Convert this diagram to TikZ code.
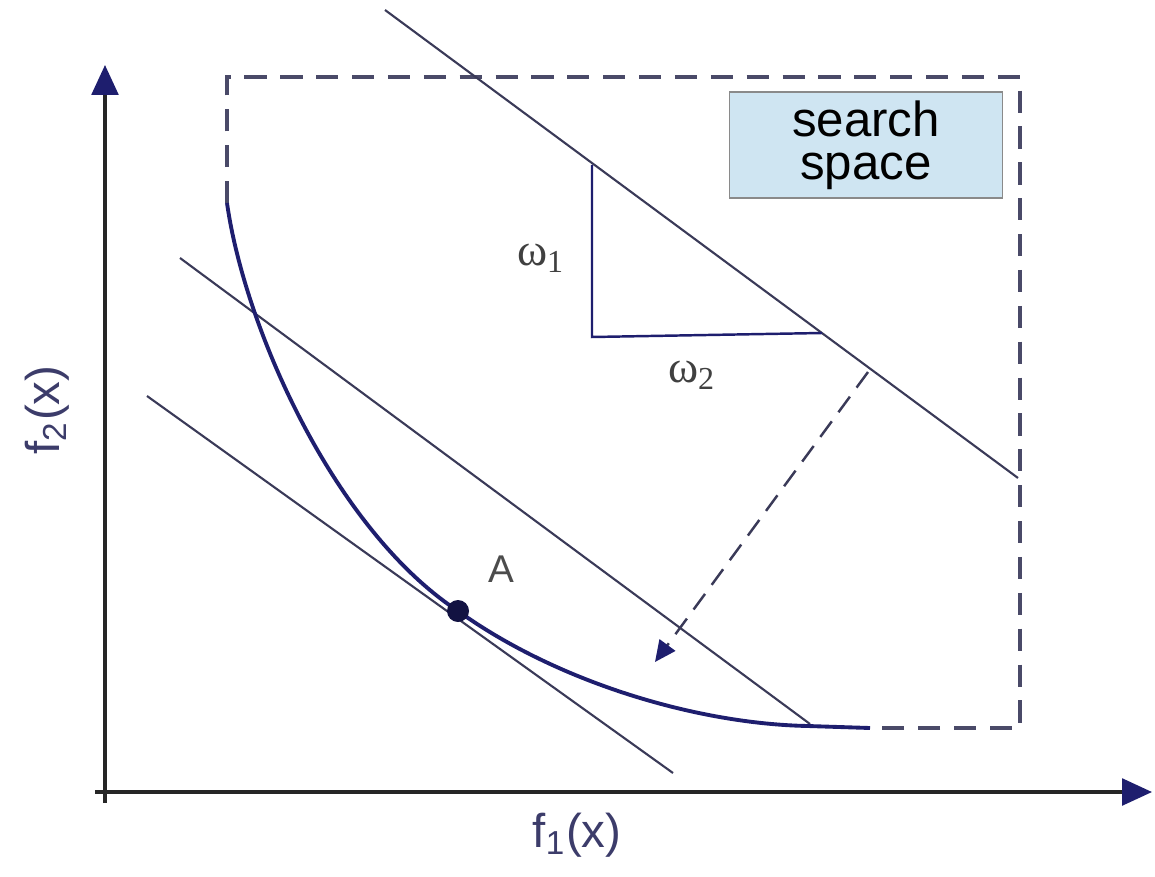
\documentclass[tikz,border=0pt]{standalone}
\usepackage{fontspec}
\setmainfont{Liberation Sans}
\newfontfamily\greekserif{Liberation Serif}
\usetikzlibrary{arrows.meta}
\definecolor{navy}{HTML}{1E1E6E}
\definecolor{thinc}{HTML}{3A3A58}
\definecolor{dashc}{HTML}{4A4A68}
\definecolor{labc}{HTML}{3C3C6A}
\definecolor{boxfill}{HTML}{CFE5F2}
\definecolor{boxdraw}{HTML}{8A8A8A}
\tikzset{
  axisline/.style={line width=0.9pt, draw=black!85, -{Triangle[length=8.5pt,width=7.6pt,color=navy]}},
  thinline/.style={line width=0.6pt, draw=thinc},
  dashbox/.style={line width=0.9pt, draw=dashc, dash pattern=on 6.3pt off 3.9pt},
  front/.style={line width=1.1pt, draw=navy},
  weight/.style={line width=0.7pt, draw=navy},
  movearrow/.style={line width=0.7pt, draw=thinc, dash pattern=on 5.5pt off 3.2pt, -{Triangle[length=6pt,width=5.5pt,color=navy]}},
  axlabel/.style={text=labc, font=\fontsize{13.5pt}{15pt}\selectfont, inner sep=0pt},
  wlabel/.style={text=black!75, font=\greekserif\fontsize{13pt}{15pt}\selectfont, inner sep=0pt},
  searchbox/.style={draw=boxdraw, line width=0.4pt, fill=boxfill, minimum width=2.73cm, minimum height=1.06cm, align=center, inner sep=0pt, font=\fontsize{14pt}{12.3pt}\selectfont},
}
\begin{document}
\begin{tikzpicture}[x=0.01cm, y=-0.01cm]
\useasboundingbox (0,0) rectangle (1155,876);
% axes
\coordinate (o1) at (105,803);
\coordinate (ytip) at (105,65);
\coordinate (o2) at (95,792);
\coordinate (xtip) at (1152,792);
\draw[axisline] (o1) -- (ytip);
\draw[axisline] (o2) -- (xtip);
\node[axlabel] (xl) at (577,835) {f\textsubscript{1}(x)};
\node[axlabel, rotate=90] (yl) at (47,410) {f\textsubscript{2}(x)};
% search space (dashed box)
\coordinate (bl) at (227,203);
\coordinate (tl) at (227,77);
\coordinate (tr) at (1020,77);
\coordinate (br) at (1020,728);
\coordinate (fe) at (870,728);
\draw[dashbox] (bl) -- (tl) -- (tr) -- (br) -- (fe);
% lines
\coordinate (l1a) at (385,10);
\coordinate (l1b) at (1018,478);
\coordinate (l2a) at (180,258);
\coordinate (l2b) at (810,724);
\coordinate (l3a) at (147,396);
\coordinate (l3b) at (673,773);
\draw[thinline] (l1a) -- (l1b);
\draw[thinline] (l2a) -- (l2b);
\draw[thinline] (l3a) -- (l3b);
% pareto front
\coordinate (A) at (458,611);
\coordinate (fm) at (808,726);
\draw[front] (bl) .. controls (245,330) and (335,530) .. (A)
  .. controls (560,684) and (700,724) .. (fm) -- (fe);
\fill[navy!60!black] (A) circle (11);
\node[text=black!70, font=\fontsize{11pt}{13pt}\selectfont, inner sep=0pt] (Al) at (501,569) {A};
% weights triangle
\coordinate (w1) at (592,165);
\coordinate (wc) at (592,337);
\coordinate (w2) at (822,333);
\draw[weight] (w1) -- (wc) -- (w2);
\node[wlabel] (om1) at (541,258) {ω\textsubscript{1}};
\node[wlabel] (om2) at (692,375) {ω\textsubscript{2}};
% moving direction
\coordinate (ms) at (868,372);
\coordinate (me) at (655,662);
\draw[movearrow] (ms) -- (me);
% label box
\node[searchbox] (ss) at (866,145) {search\\space};
\end{tikzpicture}
\end{document}
